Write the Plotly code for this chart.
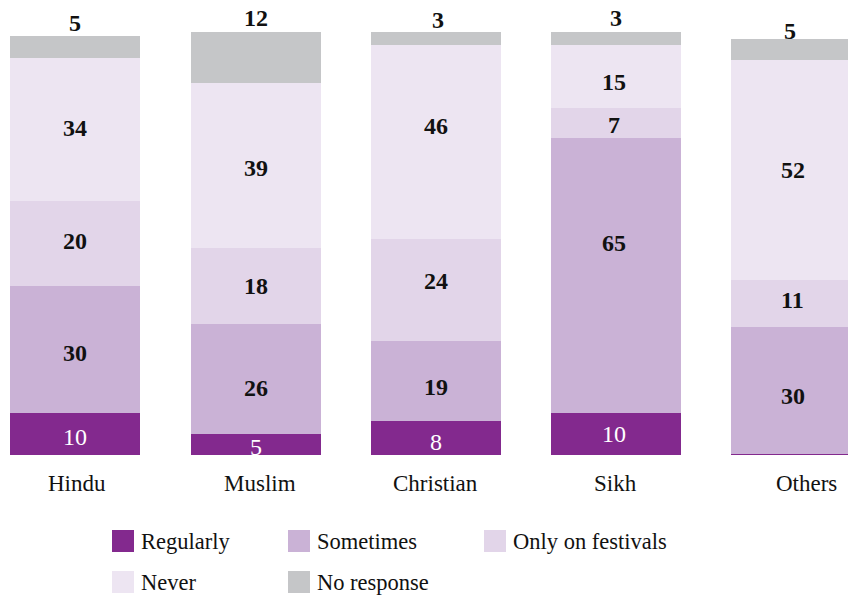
import plotly.graph_objects as go

# Religious-practice survey: share of respondents (%) by community
communities = ["Hindu", "Muslim", "Christian", "Sikh", "Others"]
series_names = ["Regularly", "Sometimes", "Only on festivals", "Never", "No response"]
regularly = [10, 5, 8, 10, 0.3]
sometimes = [30, 26, 19, 65, 30]
festivals = [20, 18, 24, 7, 11]
never = [34, 39, 46, 15, 52]
no_response = [5, 12, 3, 3, 5]

# labels printed on each segment (None = no label)
regularly_lbl = ["10", "5", "8", "10", None]
colors = ["#83298e", "#cab2d6", "#e2d5e9", "#ede5f2", "#c5c6c8"]
text_colors = ["white", "#111111", "#111111", "#111111", "#111111"]

# hand-tuned nudges for the value labels (pixels, positive = down / right)
label_dy = [
    [3.5, 4, -3, -1],      # Hindu
    [3, 9, 0, 3],          # Muslim
    [4, 6, -9, -16],       # Christian
    [0, -32, 2, 5.5],      # Sikh
    [0, 6, -3.5, 0],       # Others
]
label_dx = [0, 0, 0, -2, -3]
top_gap = [13, 14, 12, 14, 8]
top_dx = [0, 0, 2, 0, -6]

SERIF = "Liberation Serif"
W, H = 848, 596
PLOT_BOTTOM = 455  # pixel row of the baseline

series = [regularly, sometimes, festivals, never, no_response]
xs = list(range(len(communities)))

fig = go.Figure()
for name, vals, col in zip(series_names, series, colors):
    fig.add_trace(go.Bar(
        x=xs, y=vals, name=name, marker=dict(color=col, line=dict(width=0)),
        width=0.722, showlegend=False, hoverinfo="skip",
    ))

annotations = []
# segment labels in each stacked piece
for i in xs:
    base = 0
    for s, (vals, tc) in enumerate(zip(series, text_colors)):
        v = vals[i]
        mid = base + v / 2
        base += v
        if s == 4:
            continue
        if s == 0:
            lbl = regularly_lbl[i]
            if lbl is None:
                continue
            txt = lbl
        else:
            txt = "<b>%g</b>" % v
        annotations.append(dict(x=i, y=mid, text=txt, showarrow=False,
                                xshift=label_dx[i], yshift=-label_dy[i][s],
                                font=dict(family=SERIF, size=24, color=tc)))
    # no-response value printed above the bar
    annotations.append(dict(x=i, y=base, text="<b>%g</b>" % no_response[i], showarrow=False,
                            yanchor="middle", yshift=top_gap[i], xshift=top_dx[i],
                            font=dict(family=SERIF, size=24, color="#111111")))

# category names under the bars
label_shift = [2, 4, 0, 0, 11]
for i, c in enumerate(communities):
    annotations.append(dict(x=i, y=0, text=c, showarrow=False, yanchor="middle",
                            yshift=-28, xshift=label_shift[i],
                            font=dict(family=SERIF, size=23, color="#111111")))

# legend drawn as swatches + text
def py(pix):
    return (PLOT_BOTTOM - pix) / PLOT_BOTTOM

legend_pos = [(112, 541), (288, 541), (484, 541), (112, 582), (288, 582)]
shapes = []
for (lx, ly), name, col in zip(legend_pos, series_names, colors):
    shapes.append(dict(type="rect", xref="paper", yref="paper",
                       x0=lx / W, x1=(lx + 22) / W, y0=py(ly + 11), y1=py(ly - 11),
                       fillcolor=col, line=dict(width=0)))
    annotations.append(dict(xref="paper", yref="paper", x=(lx + 27) / W, y=py(ly),
                            xanchor="left", yanchor="middle", text=name, showarrow=False,
                            font=dict(family=SERIF, size=22.5, color="#111111")))

fig.update_layout(
    barmode="stack",
    width=W, height=H,
    margin=dict(l=0, r=0, t=0, b=H - PLOT_BOTTOM),
    paper_bgcolor="white", plot_bgcolor="white",
    xaxis=dict(range=[-0.419, 4.29], showticklabels=False, showgrid=False,
               zeroline=False, showline=False, ticks=""),
    yaxis=dict(range=[0, 107.6], showticklabels=False, showgrid=False,
               zeroline=False, showline=False, ticks=""),
    annotations=annotations,
    shapes=shapes,
)

fig.write_html("out.html")
